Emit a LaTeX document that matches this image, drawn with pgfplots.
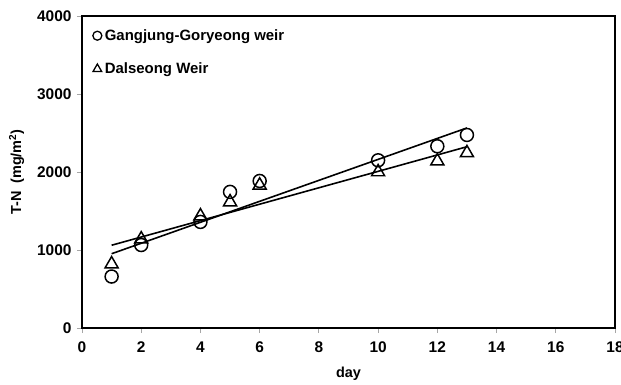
\documentclass[border=0pt]{standalone}
\usepackage{fontspec}
\setmainfont{Liberation Sans}
\usepackage{pgfplots}
\pgfplotsset{compat=1.18}
\begin{document}
\begin{tikzpicture}
\begin{axis}[
  scale only axis, width=533bp, height=312bp,
  xmin=0, xmax=18, ymin=0, ymax=4000,
  xtick={0,2,...,18}, ytick={0,1000,...,4000},
  axis line style={line width=1.3pt},
  tick style={gray!70, line width=0.8pt},
  tick align=outside, major tick length=5bp,
  xtick pos=bottom, ytick pos=left,
  ticklabel style={font=\fontsize{15.5}{17}\selectfont\bfseries},
  xticklabel style={yshift=-5bp},
  yticklabel style={xshift=-2bp},
  /pgf/number format/assume math mode=true,
  /pgf/number format/set thousands separator={},
  xlabel={day}, ylabel={T-N\ \ (mg/m\textsuperscript{2})},
  label style={font=\fontsize{14.5}{16}\selectfont\bfseries},
  xlabel style={yshift=-8bp},
  ylabel style={yshift=6bp},
  legend style={draw=none, fill=none, at={(0.02,0.97)}, anchor=north west,
    font=\fontsize{15}{17}\selectfont\bfseries, row sep=17bp, inner xsep=0pt,
    nodes={inner xsep=3bp}},
  legend cell align=left,
]
\addplot[only marks, mark=o, mark size=6.5bp, line width=1.5pt, black,
  legend image post style={mark size=4.5bp, line width=1.3pt}] coordinates {
 (1,660) (2,1064) (4,1360) (5,1745) (6,1885) (10,2150) (12,2330) (13,2475)};
\addlegendentry{Gangjung-Goryeong weir}
\addplot[only marks, mark=triangle, mark size=7.5bp, line width=1.5pt, black,
  legend image post style={mark size=5bp, line width=1.3pt}] coordinates {
 (1,820) (2,1140) (4,1435) (5,1615) (6,1830) (10,2000) (12,2140) (13,2245)};
\addlegendentry{Dalseong Weir}
\addplot[black, line width=1.6pt, forget plot] coordinates {(1,952) (13,2565)};
\addplot[black, line width=1.6pt, forget plot] coordinates {(1,1061) (13,2324)};
\end{axis}
\pgfresetboundingbox
\path ([shift={(-82bp,-57bp)}]current axis.south west) rectangle ([shift={(6bp,16bp)}]current axis.north east);
\end{tikzpicture}
\end{document}
